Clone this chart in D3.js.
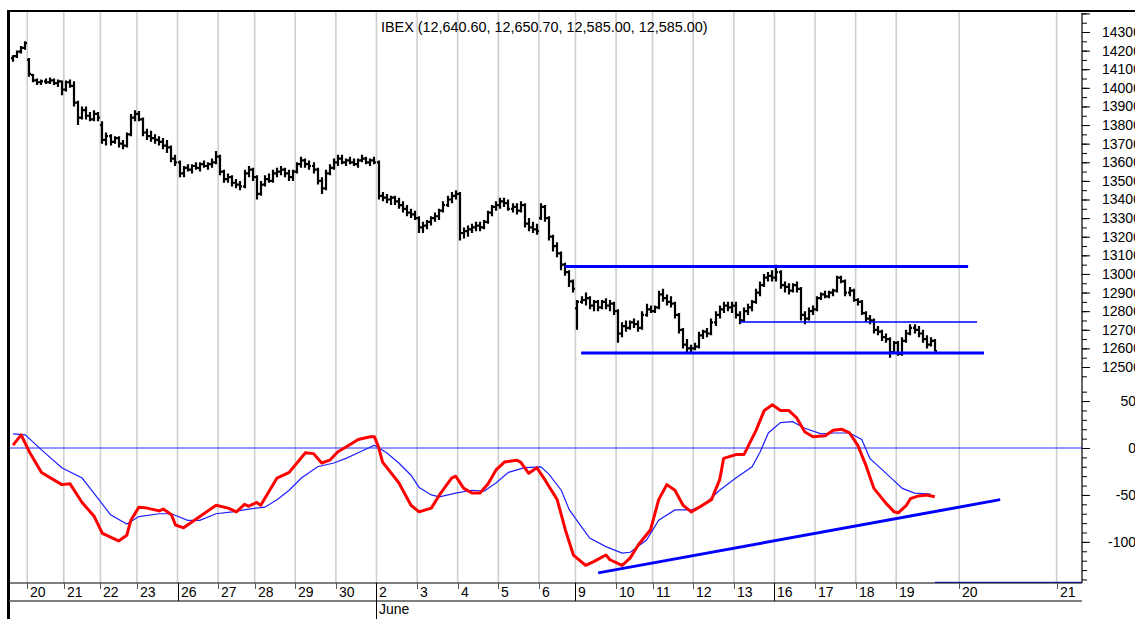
<!DOCTYPE html>
<html>
<head>
<meta charset="utf-8">
<script src="https://cdn.jsdelivr.net/npm/d3@7"></script>
<style>
  body { margin: 0; background: #fff; }
  svg { display: block; }
  text { font-family: "Liberation Sans", Arial, sans-serif; fill: #000; }
</style>
</head>
<body>
<svg id="chart" width="1135" height="619"></svg>
<script>
// ---- data ----
var title = 'IBEX (12,640.60, 12,650.70, 12,585.00, 12,585.00)';

// session labels and the bar index at which each session starts
var dayLabels = ['20','21','22','23','26','27','28','29','30','2','3','4','5','6','9','10','11','12','13','16','17','18','19','20','21'];
var dayStarts = [4,13,22,31,41,51,60,70,80,90,100,110,120,130,139,149,158,168,178,188,198,208,218,233.5,257.5];
var weekStarts = ['26','2','9','16'];
var monthLabels = [{label: 'June', start: 90}];

// hourly bars: [open, high, low, close]
var bars = [
  [14160,14175,14140,14170],[14170,14200,14160,14195],[14195,14225,14185,14215],[14215,14250,14205,14240],
  [14150,14160,14060,14075],[14070,14075,14030,14040],[14040,14050,14015,14030],[14030,14045,14015,14035],
  [14035,14050,14020,14030],[14030,14055,14020,14040],[14040,14050,14015,14025],[14025,14045,14005,14035],
  [14035,14040,13960,13990],
  [13990,14040,13980,14030],[14030,14045,14000,14010],[14010,14035,13900,13920],[13920,13930,13800,13840],
  [13840,13900,13830,13880],[13880,13900,13830,13850],[13850,13870,13820,13830],[13830,13880,13820,13860],
  [13860,13870,13820,13840],
  [13800,13820,13700,13720],[13720,13760,13690,13740],[13740,13750,13690,13710],[13710,13740,13700,13730],
  [13730,13740,13680,13700],[13700,13720,13670,13690],[13690,13760,13680,13750],[13750,13860,13740,13840],
  [13840,13880,13820,13860],
  [13860,13875,13820,13830],[13830,13840,13740,13760],[13760,13780,13720,13740],[13740,13770,13710,13730],
  [13730,13750,13700,13720],[13720,13740,13690,13710],[13710,13730,13670,13690],[13690,13720,13650,13680],
  [13680,13690,13600,13620],[13620,13640,13580,13600],
  [13600,13610,13520,13540],[13540,13580,13520,13570],[13570,13590,13550,13560],[13560,13590,13540,13580],
  [13580,13600,13560,13570],[13570,13600,13550,13590],[13590,13610,13570,13580],[13580,13600,13560,13590],
  [13590,13620,13570,13600],[13600,13660,13590,13630],
  [13630,13640,13530,13550],[13550,13560,13490,13510],[13510,13540,13490,13520],[13520,13530,13470,13490],
  [13490,13510,13460,13480],[13480,13500,13450,13470],[13470,13560,13460,13540],[13540,13580,13520,13560],
  [13560,13570,13500,13520],
  [13520,13530,13400,13430],[13430,13500,13420,13480],[13480,13530,13470,13510],[13510,13540,13490,13500],
  [13500,13560,13490,13540],[13540,13570,13520,13550],[13550,13580,13530,13560],[13560,13570,13520,13540],
  [13540,13560,13500,13520],[13520,13560,13500,13550],
  [13550,13600,13540,13590],[13590,13630,13570,13610],[13610,13620,13570,13590],[13590,13610,13560,13580],
  [13580,13600,13540,13560],[13560,13570,13480,13500],[13500,13520,13430,13460],[13460,13560,13450,13540],
  [13540,13590,13530,13570],[13570,13620,13560,13600],
  [13600,13640,13580,13620],[13620,13640,13590,13600],[13600,13620,13580,13610],[13610,13630,13590,13600],
  [13600,13620,13580,13590],[13590,13620,13570,13610],[13610,13640,13600,13620],[13620,13630,13590,13600],
  [13600,13620,13580,13610],[13610,13630,13590,13600],
  [13600,13610,13400,13420],[13420,13440,13390,13410],[13410,13430,13380,13400],[13400,13420,13370,13410],
  [13410,13420,13370,13390],[13390,13410,13350,13370],[13370,13390,13330,13350],[13350,13370,13310,13330],
  [13330,13350,13300,13320],[13320,13340,13290,13300],
  [13300,13310,13220,13250],[13250,13280,13220,13260],[13260,13290,13240,13280],[13280,13310,13260,13300],
  [13300,13330,13280,13310],[13310,13350,13290,13340],[13340,13390,13330,13370],[13370,13420,13360,13400],
  [13400,13440,13380,13420],[13420,13450,13400,13430],
  [13430,13440,13180,13220],[13220,13250,13190,13230],[13230,13260,13200,13240],[13240,13270,13220,13250],
  [13250,13280,13230,13260],[13260,13280,13230,13250],[13250,13290,13240,13280],[13280,13340,13270,13330],
  [13330,13370,13310,13360],[13360,13390,13340,13370],
  [13370,13410,13350,13390],[13390,13410,13360,13380],[13380,13400,13340,13350],[13350,13380,13330,13360],
  [13360,13380,13320,13340],[13340,13390,13330,13370],[13370,13380,13250,13270],[13270,13300,13230,13250],
  [13250,13280,13220,13240],[13240,13270,13210,13230],
  [13300,13380,13290,13360],[13360,13370,13280,13300],[13300,13310,13180,13200],[13200,13210,13120,13150],
  [13150,13170,13090,13110],[13110,13120,13020,13050],[13050,13060,12990,13010],[13010,13020,12930,12960],
  [12960,12970,12900,12920],
  [12815,12860,12700,12850],[12850,12880,12840,12860],[12860,12900,12830,12870],[12870,12880,12810,12830],
  [12830,12860,12800,12850],[12850,12860,12800,12820],[12820,12860,12810,12850],[12850,12870,12810,12830],
  [12830,12860,12800,12840],[12840,12850,12780,12800],
  [12800,12810,12630,12680],[12680,12740,12660,12720],[12720,12750,12690,12710],[12710,12750,12700,12740],
  [12740,12760,12710,12730],[12730,12750,12690,12710],[12710,12800,12700,12780],[12780,12840,12770,12810],
  [12810,12830,12790,12800],
  [12800,12830,12790,12820],[12820,12910,12810,12890],[12890,12920,12850,12870],[12870,12890,12830,12850],
  [12850,12880,12820,12840],[12840,12850,12760,12780],[12780,12790,12680,12700],[12700,12710,12600,12620],
  [12620,12650,12580,12600],[12600,12620,12580,12600],
  [12600,12630,12590,12610],[12610,12690,12600,12670],[12670,12700,12650,12690],[12690,12710,12660,12680],
  [12680,12760,12670,12740],[12740,12800,12720,12780],[12780,12830,12760,12810],[12810,12850,12790,12830],
  [12830,12850,12800,12820],[12820,12850,12790,12830],
  [12830,12850,12760,12780],[12780,12800,12730,12750],[12750,12820,12740,12800],[12800,12840,12780,12820],
  [12820,12860,12800,12850],[12850,12920,12840,12900],[12900,12960,12880,12940],[12940,13000,12930,12980],
  [12980,13010,12960,12990],[12990,13020,12960,12980],
  [12980,13050,12960,13010],[13010,13020,12920,12940],[12940,12960,12900,12930],[12930,12950,12890,12910],
  [12910,12950,12900,12940],[12940,12960,12900,12920],[12920,12930,12750,12780],[12780,12800,12730,12760],
  [12760,12820,12750,12800],[12800,12830,12780,12810],
  [12810,12880,12800,12870],[12870,12900,12860,12890],[12890,12910,12870,12880],[12880,12910,12870,12900],
  [12900,12920,12880,12910],[12910,12990,12900,12980],[12980,12990,12950,12960],[12960,12970,12880,12900],
  [12900,12930,12880,12910],[12910,12920,12850,12860],
  [12860,12870,12830,12850],[12850,12860,12780,12790],[12790,12800,12740,12760],[12760,12780,12730,12750],
  [12750,12760,12680,12700],[12700,12720,12670,12690],[12690,12700,12640,12660],[12660,12680,12630,12650],
  [12650,12660,12550,12580],[12580,12640,12570,12630],
  [12630,12640,12560,12570],[12570,12660,12560,12640],[12640,12700,12630,12680],[12680,12730,12670,12710],
  [12710,12730,12680,12700],[12700,12720,12660,12680],[12680,12700,12630,12650],[12650,12670,12600,12620],
  [12620,12660,12610,12640],[12640.6,12650.7,12585,12585]
];

// oscillator (red) and its signal line (blue): [bar, value]
var oscillator = [
  [0,3],[2,14],[4,-4],[7,-26],[12,-39],[14,-38],[17,-58],[20,-73],[22,-91],[26,-99],[28,-93],[29,-77],
  [31,-63],[33,-64],[36,-67],[37,-65],[39,-71],[40,-82],[42,-85],[46,-73],[50,-61],[53,-64],[55,-68],
  [57,-60],[58,-62],[60,-58],[61,-61],[65,-32],[68,-26],[72,-5],[74,-6],[76,-16],[78,-13],[80,-4],
  [82,1],[85,9],[88,12],[89,12],[90,1],[91,-15],[95,-37],[98,-61],[100,-68],[103,-64],[105,-50],
  [108,-32],[109,-30],[111,-43],[113,-48],[115,-48],[117,-38],[119,-23],[121,-15],[124,-13],[125,-15],
  [127,-27],[129,-21],[131,-34],[134,-55],[136,-87],[138,-114],[141,-125],[143,-121],[146,-114],
  [147,-119],[150,-125],[152,-117],[154,-103],[157,-87],[159,-55],[161,-39],[163,-45],[165,-61],
  [167,-68],[169,-63],[172,-55],[174,-34],[175,-11],[178,-7],[180,-7],[183,19],[185,40],[187,46],
  [189,40],[191,40],[193,32],[195,17],[197,12],[200,13],[202,19],[204,20],[206,16],[208,3],[210,-18],
  [212,-43],[215,-59],[217,-68],[218,-69],[220,-61],[221,-54],[223,-51],[225,-50],[227,-52]
];
var signal = [
  [0,15],[3,14],[5,6],[7,-2],[12,-21],[17,-32],[19,-43],[24,-71],[28,-81],[31,-73],[36,-70],[39,-70],
  [43,-77],[46,-77],[50,-70],[54,-68],[58,-65],[62,-63],[65,-55],[68,-45],[71,-32],[75,-20],[79,-16],
  [82,-11],[85,-5],[89,3],[92,-5],[95,-16],[98,-29],[100,-42],[103,-50],[105,-52],[109,-48],[113,-45],
  [116,-46],[119,-37],[122,-26],[126,-21],[130,-20],[132,-28],[135,-45],[137,-66],[140,-84],[142,-96],
  [146,-105],[150,-112],[152,-111],[156,-98],[159,-77],[163,-66],[167,-66],[170,-61],[174,-45],
  [178,-32],[182,-20],[184,-4],[186,16],[189,27],[192,28],[195,21],[199,15],[202,16],[206,16],[209,9],
  [211,-11],[214,-23],[216,-31],[219,-43],[222,-48],[226,-49]
];

// drawn lines: price channel and oscillator trend line
var priceLines = [
  {from: [136.4, 13040], to: [235.7, 13040], width: 3},
  {from: [140.4, 12575], to: [239.6, 12575], width: 3},
  {from: [179.5, 12742], to: [237.9, 12742], width: 1.5}
];
var oscLines = [
  {from: [144.6, -133], to: [243.6, -55], width: 3}
];

// ---- layout ----
var svg = d3.select('#chart');
var left = 9, right = 1082;
var fs = 14;

var x = d3.scaleLinear().domain([-0.5, 263.5]).range([left, 1081]);
var yP = d3.scaleLinear().domain([12500, 14300]).range([367, 32]);
var yI = d3.scaleLinear().domain([0, -100]).range([448, 541.9]);

var plotTop = 12, plotBottom = 583, rowBottom = 601;

// day grid lines
svg.append('g').selectAll('line')
  .data(dayStarts)
  .enter().append('line')
  .attr('x1', d => x(d)).attr('x2', d => x(d))
  .attr('y1', plotTop).attr('y2', plotBottom)
  .attr('stroke', '#cfcfcf').attr('stroke-width', 1.6);

// title
svg.append('text')
  .attr('x', 381).attr('y', 32)
  .attr('font-size', 14.4)
  .text(title);

// right price axis
var priceMinor = d3.range(12450, 14401, 50);
var priceMajor = d3.range(12500, 14301, 100);
var axP = svg.append('g').attr('transform', 'translate(' + right + ',0)');
axP.call(d3.axisRight(yP).tickValues(priceMinor).tickSize(5).tickFormat(''));
axP.call(g => g.select('.domain').remove());
var axP2 = svg.append('g').attr('transform', 'translate(' + right + ',0)');
axP2.call(d3.axisRight(yP).tickValues(priceMajor.concat([14400])).tickSize(8).tickPadding(12)
  .tickFormat(d => d > 14300 ? '' : d));
axP2.call(g => g.select('.domain').remove());
axP2.selectAll('text').attr('font-size', fs).attr('font-family', null);

// right oscillator axis
var oscMinor = d3.range(-140, 61, 10);
var oscMajor = [50, 0, -50, -100];
var axI = svg.append('g').attr('transform', 'translate(' + right + ',0)');
axI.call(d3.axisRight(yI).tickValues(oscMinor).tickSize(5).tickFormat(''));
axI.call(g => g.select('.domain').remove());
var axI2 = svg.append('g').attr('transform', 'translate(' + right + ',0)');
axI2.call(d3.axisRight(yI).tickValues(oscMajor).tickSize(8).tickFormat(''));
axI2.call(g => g.select('.domain').remove());
svg.append('g').selectAll('text')
  .data(oscMajor)
  .enter().append('text')
  .attr('x', 1136).attr('y', d => yI(d))
  .attr('dy', '0.35em')
  .attr('text-anchor', 'end')
  .attr('font-size', fs)
  .text(d => d);
svg.selectAll('.tick line').attr('stroke', '#000');

svg.append('line')
  .attr('x1', right).attr('x2', right)
  .attr('y1', plotTop + 1).attr('y2', plotBottom)
  .attr('stroke', '#000').attr('stroke-width', 1.2);

// oscillator zero line and bottom marker
svg.append('line')
  .attr('x1', left).attr('x2', right)
  .attr('y1', yI(0)).attr('y2', yI(0))
  .attr('stroke', '#2b2bff').attr('stroke-width', 1.2);
svg.append('line')
  .attr('x1', x(227.5)).attr('x2', right)
  .attr('y1', yI(-143)).attr('y2', yI(-143))
  .attr('stroke', '#2b2bff').attr('stroke-width', 1.2);

// oscillator lines
var oscLine = d3.line().x(d => x(d[0] + 0.5)).y(d => yI(d[1]));
svg.append('path')
  .datum(signal)
  .attr('d', oscLine)
  .attr('fill', 'none')
  .attr('stroke', '#1f1fff').attr('stroke-width', 1.2);
svg.append('path')
  .datum(oscillator)
  .attr('d', oscLine)
  .attr('fill', 'none')
  .attr('stroke', '#ff0000').attr('stroke-width', 3)
  .attr('stroke-linejoin', 'round');

// OHLC bars
svg.append('g').selectAll('path')
  .data(bars)
  .enter().append('path')
  .attr('d', (d, i) => {
    var c = Math.round(x(i + 0.5));
    return 'M' + (c - 2) + ',' + yP(d[0]) + 'H' + c +
      'M' + c + ',' + yP(d[1]) + 'V' + yP(d[2]) +
      'M' + c + ',' + yP(d[3]) + 'H' + (c + 2);
  })
  .attr('fill', 'none')
  .attr('stroke', '#000')
  .attr('stroke-width', 2.2);

// trend lines
svg.append('g').selectAll('line')
  .data(priceLines)
  .enter().append('line')
  .attr('x1', d => x(d.from[0])).attr('y1', d => yP(d.from[1]))
  .attr('x2', d => x(d.to[0])).attr('y2', d => yP(d.to[1]))
  .attr('stroke', '#0000ff').attr('stroke-width', d => d.width);
svg.append('g').selectAll('line')
  .data(oscLines)
  .enter().append('line')
  .attr('x1', d => x(d.from[0])).attr('y1', d => yI(d.from[1]))
  .attr('x2', d => x(d.to[0])).attr('y2', d => yI(d.to[1]))
  .attr('stroke', '#0000ff').attr('stroke-width', d => d.width);

// frame
svg.append('line')
  .attr('x1', left - 2).attr('x2', 1135)
  .attr('y1', 11).attr('y2', 11)
  .attr('stroke', '#000').attr('stroke-width', 2);
svg.append('line')
  .attr('x1', 8.5).attr('x2', 8.5)
  .attr('y1', 10).attr('y2', 619)
  .attr('stroke', '#000').attr('stroke-width', 3);

// date axis
svg.append('line')
  .attr('x1', left).attr('x2', right)
  .attr('y1', plotBottom).attr('y2', plotBottom)
  .attr('stroke', '#000').attr('stroke-width', 1.2);
svg.append('line')
  .attr('x1', left).attr('x2', right)
  .attr('y1', rowBottom).attr('y2', rowBottom)
  .attr('stroke', '#555').attr('stroke-width', 1.5);

var days = dayLabels.map((d, i) => ({label: d, start: dayStarts[i], week: i < 23 && weekStarts.indexOf(d) >= 0}));
var dayG = svg.append('g').selectAll('g')
  .data(days)
  .enter().append('g')
  .attr('transform', d => 'translate(' + Math.round(x(d.start)) + ',0)');
dayG.append('line')
  .attr('x1', 0.5).attr('x2', 0.5)
  .attr('y1', plotBottom).attr('y2', d => d.week ? rowBottom : plotBottom + 6)
  .attr('stroke', d => d.week ? '#000' : '#555')
  .attr('stroke-width', 1);
dayG.append('text')
  .attr('x', 3).attr('y', 597)
  .attr('font-size', fs)
  .text(d => d.label);

var monthG = svg.append('g').selectAll('g')
  .data(monthLabels)
  .enter().append('g')
  .attr('transform', d => 'translate(' + Math.round(x(d.start)) + ',0)');
monthG.append('line')
  .attr('x1', 0.5).attr('x2', 0.5)
  .attr('y1', plotBottom).attr('y2', 619)
  .attr('stroke', '#000').attr('stroke-width', 1);
monthG.append('text')
  .attr('x', 3).attr('y', 614)
  .attr('font-size', fs)
  .text(d => d.label);
</script>
</body>
</html>
